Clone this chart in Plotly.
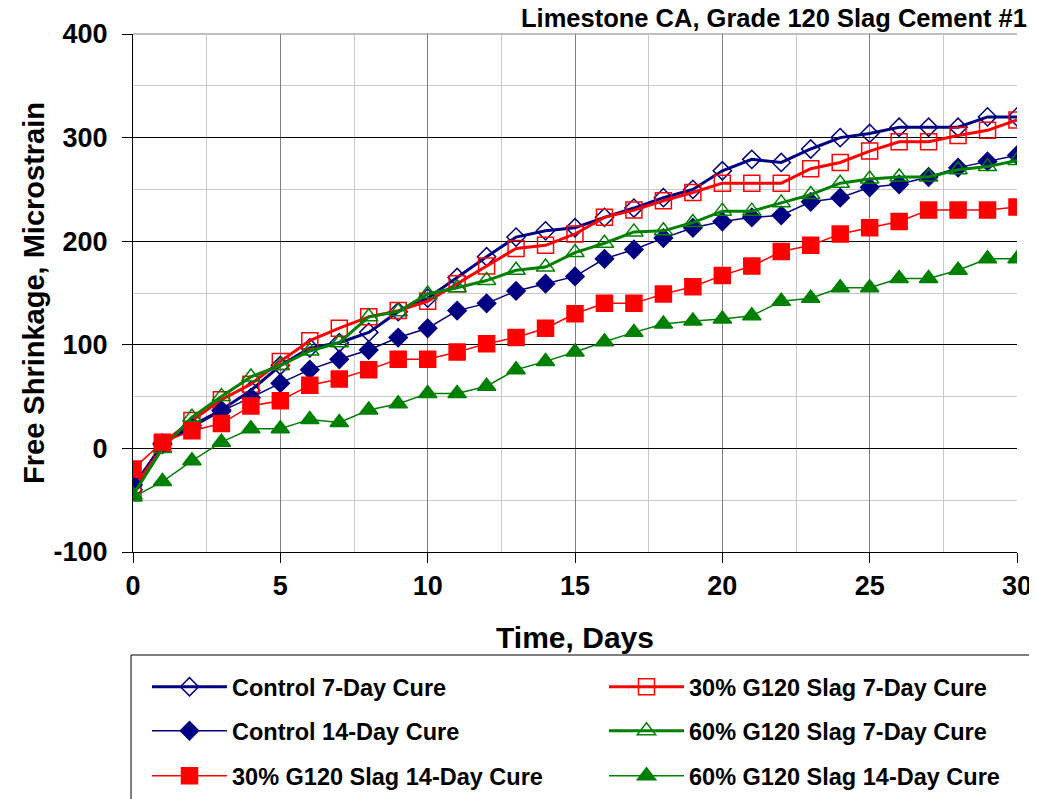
import plotly.graph_objects as go

days = list(range(31))

control_7 = [-40, 5, 22, 37, 56, 80, 97, 102, 112, 132, 145, 165, 185, 204, 210, 213,
             223, 232, 242, 250, 268, 279, 276, 289, 300, 304, 310, 310, 310, 320, 320]
slag30_7 = [-40, 5, 27, 47, 62, 84, 104, 116, 127, 133, 142, 159, 176, 193, 196, 207,
            223, 230, 239, 247, 256, 256, 256, 270, 276, 287, 296, 296, 302, 307, 317]
control_14 = [-35, 4, 20, 36, 49, 63, 76, 86, 95, 107, 116, 133, 140, 152, 159, 166,
              183, 192, 203, 213, 219, 223, 225, 238, 242, 252, 255, 262, 271, 277, 283]
slag60_7 = [-45, 0, 30, 50, 69, 80, 94, 102, 127, 132, 149, 155, 162, 172, 175, 189,
            198, 209, 210, 218, 229, 229, 237, 245, 256, 260, 262, 262, 269, 272, 278]
slag30_14 = [-20, 6, 17, 24, 41, 46, 61, 67, 76, 86, 86, 93, 101, 107, 116, 130,
             140, 140, 149, 156, 167, 176, 190, 196, 207, 213, 219, 230, 230, 230, 233]
slag60_14 = [-47, -32, -12, 6, 19, 19, 28, 25, 37, 43, 53, 53, 60, 76, 84, 93,
             103, 112, 120, 123, 125, 128, 142, 145, 155, 155, 164, 164, 172, 183, 183]

y_tickvals = [-100, 0, 100, 200, 300, 400]
y_ticktext = ["-100", "0", "100", "200", "300", "400"]

names = ["Control 7-Day Cure", "30% G120 Slag 7-Day Cure",
         "Control 14-Day Cure", "60% G120 Slag 7-Day Cure",
         "30% G120 Slag 14-Day Cure", "60% G120 Slag 14-Day Cure"]
values = [control_7, slag30_7, control_14, slag60_7, slag30_14, slag60_14]

NAVY, RED, GREEN = "#000080", "#FF0000", "#008000"
styles = [
    dict(color=NAVY, symbol="diamond-open", size=14, width=3),
    dict(color=RED, symbol="square-open", size=16, width=3),
    dict(color=NAVY, symbol="diamond", size=14, width=1.5),
    dict(color=GREEN, symbol="triangle-up-open", size=16, width=3),
    dict(color=RED, symbol="square", size=16, width=1.5),
    dict(color=GREEN, symbol="triangle-up", size=16, width=1.5),
]

# The page body adds an 8px margin; build the figure 8px smaller and shift.
OFF = 8
W, H = 1037 - OFF, 799 - OFF
PL, PT, PW, PH = 133 - OFF, 34 - OFF, 884, 518


def px(xp):
    return (xp - OFF - PL) / PW


def py(yp):
    return (PT + PH - (yp - OFF)) / PH


# legend slot (column px, row px) for each trace, in screen pixels
leg_cols = [147, 604, 147, 604, 147, 604]
leg_rows = [687, 687, 731, 731, 776, 776]

FONT = "Liberation Sans, Arial, sans-serif"

fig = go.Figure()
legends = {}
for i, (name, vals, st) in enumerate(zip(names, values, styles)):
    key = "legend" if i == 0 else f"legend{i + 1}"
    fig.add_trace(go.Scatter(
        x=days, y=vals, name=name, mode="lines+markers",
        line=dict(color=st["color"], width=st["width"]),
        marker=dict(symbol=st["symbol"], size=st["size"], color=st["color"],
                    line=dict(color=st["color"], width=1.5)),
        legend=key,
    ))
    legends[key] = dict(
        orientation="h", x=px(leg_cols[i]), xanchor="left",
        y=py(leg_rows[i]), yanchor="middle", itemwidth=75,
        font=dict(family=FONT, size=23.5, color="black", weight="bold"),
        bgcolor="rgba(0,0,0,0)", borderwidth=0)

fig.update_layout(
    width=W, height=H,
    margin=dict(l=PL, r=W - PL - PW, t=PT, b=H - PT - PH, autoexpand=False),
    paper_bgcolor="white", plot_bgcolor="white",
    font=dict(family=FONT, color="black", weight="bold"),
    xaxis=dict(range=[0, 30], dtick=5, tick0=0,
               ticks="outside", ticklen=10, tickcolor="black",
               showline=True, linecolor="black", linewidth=1,
               showgrid=True, gridcolor="#808080", gridwidth=1,
               minor=dict(dtick=2.5, showgrid=True, gridcolor="#C8C8C8", gridwidth=1),
               zeroline=False,
               tickfont=dict(family=FONT, size=27, color="black", weight="bold"),
               title=dict(text="Time, Days", standoff=26,
                          font=dict(family=FONT, size=30, color="black", weight="bold"))),
    yaxis=dict(range=[-100, 400], tickvals=y_tickvals, ticktext=y_ticktext,
               ticks="outside", ticklen=10, tickcolor="black", ticklabelstandoff=9,
               showline=True, linecolor="black", linewidth=1,
               showgrid=True, gridcolor="black", gridwidth=1,
               minor=dict(dtick=50, showgrid=True, gridcolor="#C8C8C8", gridwidth=1),
               zeroline=False,
               tickfont=dict(family=FONT, size=27, color="black", weight="bold"),
               title=dict(text="Free Shrinkage, Microstrain", standoff=0,
                          font=dict(family=FONT, size=29, color="black", weight="bold"))),
    showlegend=True,
    **legends,
)

fig.add_annotation(text="Limestone CA, Grade 120 Slag Cement #1",
                   xref="paper", yref="paper", x=px(1029), xanchor="right",
                   y=py(18), yanchor="middle", showarrow=False,
                   font=dict(family=FONT, size=25.5, color="black", weight="bold"))

# gray top edge of plot area, and legend frame (bottom edge runs off the page)
fig.add_shape(type="line", xref="paper", yref="paper", x0=0, x1=1, y0=1, y1=1,
              line=dict(color="#808080", width=1), layer="between")
fig.add_shape(type="rect", xref="paper", yref="paper",
              x0=px(131), x1=px(1030), y0=py(655), y1=py(810),
              line=dict(color="black", width=1), fillcolor="rgba(0,0,0,0)")

fig.write_html("out.html")
